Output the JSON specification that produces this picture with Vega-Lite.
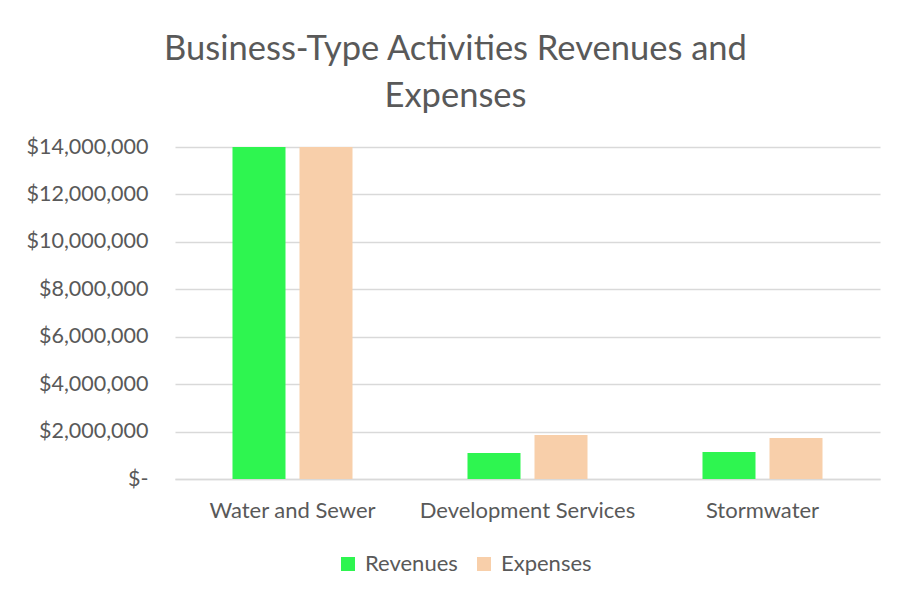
{
  "$schema": "https://vega.github.io/schema/vega-lite/v6.json",
  "autosize": "none",
  "width": 705,
  "height": 332,
  "padding": {"left": 175, "top": 147, "right": 29, "bottom": 123},
  "background": "white",
  "title": {
    "text": ["Business-Type Activities Revenues and", "Expenses"],
    "anchor": "middle",
    "frame": "group",
    "dx": -72,
    "offset": 22,
    "fontSize": 34.5,
    "lineHeight": 47,
    "font": "Lato",
    "fontWeight": "normal",
    "color": "#595959"
  },
  "data": {
    "values": [
      {"category": "Water and Sewer", "series": "Revenues", "amount": 14000000},
      {"category": "Water and Sewer", "series": "Expenses", "amount": 14000000},
      {"category": "Development Services", "series": "Revenues", "amount": 1100000},
      {"category": "Development Services", "series": "Expenses", "amount": 1855000},
      {"category": "Stormwater", "series": "Revenues", "amount": 1140000},
      {"category": "Stormwater", "series": "Expenses", "amount": 1730000}
    ]
  },
  "mark": {"type": "bar", "clip": true},
  "encoding": {
    "x": {
      "field": "category",
      "type": "nominal",
      "sort": ["Water and Sewer", "Development Services", "Stormwater"],
      "scale": {"paddingInner": 0, "paddingOuter": 0},
      "axis": {
        "title": null,
        "labelAngle": 0,
        "labelFont": "Lato",
        "labelFontSize": 22,
        "labelColor": "#595959",
        "labelPadding": 21,
        "labelLimit": 400,
        "ticks": false,
        "domainColor": "#d9d9d9",
        "domainWidth": 1.5,
        "grid": false
      }
    },
    "xOffset": {
      "field": "series",
      "type": "nominal",
      "sort": ["Revenues", "Expenses"],
      "scale": {"paddingInner": 0.209, "paddingOuter": 0.858}
    },
    "y": {
      "field": "amount",
      "type": "quantitative",
      "scale": {"domain": [0, 14000000], "nice": false},
      "axis": {
        "title": null,
        "values": [0, 2000000, 4000000, 6000000, 8000000, 10000000, 12000000, 14000000],
        "labelExpr": "datum.value == 0 ? '$-' : '$' + format(datum.value, ',.0f')",
        "labelFont": "Lato",
        "labelFontSize": 21.5,
        "labelColor": "#595959",
        "labelPadding": 27,
        "ticks": false,
        "domain": false,
        "gridColor": "#d9d9d9",
        "gridWidth": 1.3
      }
    },
    "color": {
      "field": "series",
      "type": "nominal",
      "sort": ["Revenues", "Expenses"],
      "scale": {"domain": ["Revenues", "Expenses"], "range": ["#2EF550", "#F8CFAA"]},
      "legend": {
        "title": null,
        "orient": "none",
        "direction": "horizontal",
        "legendX": 162,
        "legendY": 406,
        "symbolType": "square",
        "symbolSize": 196,
        "symbolStrokeWidth": 0,
        "symbolOpacity": 1,
        "labelFont": "Lato",
        "labelFontSize": 22,
        "labelColor": "#595959",
        "labelOffset": 6,
        "columnPadding": 15
      }
    }
  },
  "config": {
    "view": {"stroke": null}
  }
}
